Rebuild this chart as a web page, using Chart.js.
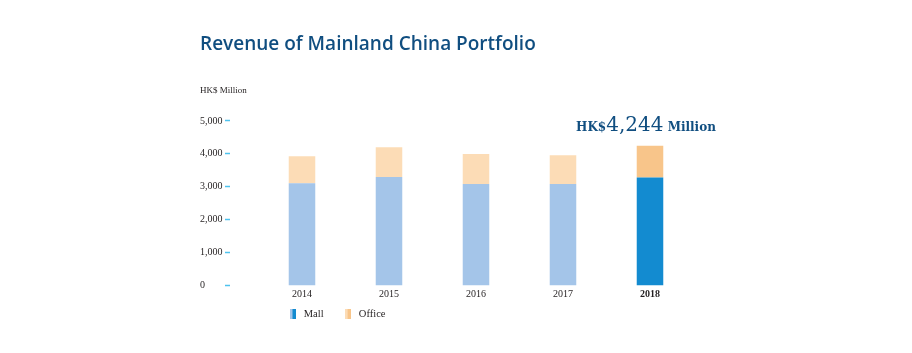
<!DOCTYPE html>
<html>
<head>
<meta charset="utf-8">
<script src="https://cdn.jsdelivr.net/npm/chart.js@4/dist/chart.umd.min.js"></script>
<style>
  html, body { margin: 0; padding: 0; background: #ffffff; }
  #c { display: block; }
</style>
</head>
<body>
<canvas id="c" width="912" height="353"></canvas>
<script>
// ---- data ----
const years = ['2014', '2015', '2016', '2017', '2018'];
const mallValues = [3103, 3293, 3082, 3082, 3284];
const officeValues = [824, 906, 915, 876, 960];
const seriesNames = ['Mall', 'Office'];
const titleText = 'Revenue of Mainland China Portfolio';
const unitText = 'HK$ Million';
const yTickValues = [0, 1000, 2000, 3000, 4000, 5000];

// ---- styles ----
const mallLight = '#a4c5e9', mallDark = '#138bd0';
const officeLight = '#fcdcb6', officeDark = '#f8c58a';
const navy = '#104e80';
const textColor = '#231f20';
const dashColor = '#4fc3ee';
const lastIdx = years.length - 1;

function swatch(light, dark) {
  const cv = document.createElement('canvas');
  cv.width = 6; cv.height = 10;
  const g = cv.getContext('2d');
  g.fillStyle = light; g.fillRect(0, 0, 3, 10);
  g.fillStyle = dark; g.fillRect(3, 0, 3, 10);
  return cv;
}

const tickDashes = {
  id: 'tickDashes',
  afterDraw(chart) {
    const s = chart.scales.y, ctx = chart.ctx;
    ctx.save();
    ctx.strokeStyle = dashColor;
    ctx.lineWidth = 1.5;
    s.ticks.forEach((t, i) => {
      const y = Math.round(s.getPixelForTick(i)) - 0.5;
      ctx.beginPath();
      ctx.moveTo(s.left + 25, y);
      ctx.lineTo(s.left + 30, y);
      ctx.stroke();
    });
    ctx.restore();
  }
};

const totalLabel = {
  id: 'totalLabel',
  afterDatasetsDraw(chart) {
    const xs = chart.scales.x, ys = chart.scales.y, ctx = chart.ctx;
    const total = mallValues[lastIdx] + officeValues[lastIdx];
    const parts = [
      { t: 'HK$', f: 'bold 12px "DejaVu Serif"' },
      { t: total.toLocaleString('en-US'), f: '20px "DejaVu Serif"' },
      { t: ' Million', f: 'bold 12px "DejaVu Serif"' }
    ];
    ctx.save();
    ctx.fillStyle = navy;
    ctx.textBaseline = 'alphabetic';
    ctx.textAlign = 'left';
    let w = 0;
    parts.forEach(p => { ctx.font = p.f; p.w = ctx.measureText(p.t).width; w += p.w; });
    let x = xs.getPixelForValue(lastIdx) - 4 - w / 2;
    const y = ys.getPixelForValue(total) - 15;
    parts.forEach(p => { ctx.font = p.f; ctx.fillText(p.t, x, y); x += p.w; });
    ctx.restore();
  }
};

const legendShift = {
  id: 'legendShift',
  afterLayout(chart) {
    const l = chart.legend;
    const dx = 10, dy = -13;
    l.left += dx; l.right += dx; l.top += dy; l.bottom += dy;
  }
};

Chart.defaults.font.family = '"Liberation Serif", serif';
Chart.defaults.color = textColor;

new Chart(document.getElementById('c'), {
  type: 'bar',
  data: {
    labels: years,
    datasets: [
      {
        label: seriesNames[0],
        data: mallValues,
        backgroundColor: years.map((_, i) => i === lastIdx ? mallDark : mallLight),
        pointStyle: swatch(mallLight, mallDark),
        barPercentage: 0.305,
        categoryPercentage: 1
      },
      {
        label: seriesNames[1],
        data: officeValues,
        backgroundColor: years.map((_, i) => i === lastIdx ? officeDark : officeLight),
        pointStyle: swatch(officeLight, officeDark),
        barPercentage: 0.305,
        categoryPercentage: 1
      }
    ]
  },
  options: {
    responsive: false,
    devicePixelRatio: 1,
    animation: false,
    layout: { padding: { left: 200, right: 218.5, top: 0, bottom: 11 } },
    scales: {
      x: {
        stacked: true,
        grid: { display: false, drawTicks: false },
        border: { display: false },
        ticks: {
          padding: 3,
          color: textColor,
          font: (c) => ({ family: '"Liberation Serif", serif', size: 10, weight: c.index === lastIdx ? 'bold' : 'normal' })
        }
      },
      y: {
        stacked: true,
        min: 0,
        max: 5000,
        afterBuildTicks: (s) => { s.ticks = yTickValues.map(v => ({ value: v })); },
        afterFit: (s) => { s.width = 58.5; },
        grid: { display: false, drawTicks: false },
        border: { display: false },
        ticks: {
          crossAlign: 'far',
          color: textColor,
          font: { size: 10 },
          callback: (v) => Number(v).toLocaleString('en-US')
        }
      }
    },
    plugins: {
      title: {
        display: true,
        text: titleText,
        align: 'start',
        color: navy,
        font: { family: '"Open Sans"', size: 19, weight: '600', lineHeight: 1.2 },
        padding: { top: 33.4, bottom: 0 }
      },
      subtitle: {
        display: true,
        text: unitText,
        align: 'start',
        color: textColor,
        font: { family: '"Liberation Serif", serif', size: 9, lineHeight: 1.2 },
        padding: { top: 29.4, bottom: 24.5 }
      },
      legend: {
        display: true,
        position: 'bottom',
        align: 'start',
        fullSize: false,
        labels: {
          usePointStyle: true,
          pointStyleWidth: 12,
          padding: 18,
          color: textColor,
          font: { size: 10.5 }
        }
      },
      tooltip: { enabled: false }
    }
  },
  plugins: [tickDashes, totalLabel, legendShift]
});
</script>
</body>
</html>
